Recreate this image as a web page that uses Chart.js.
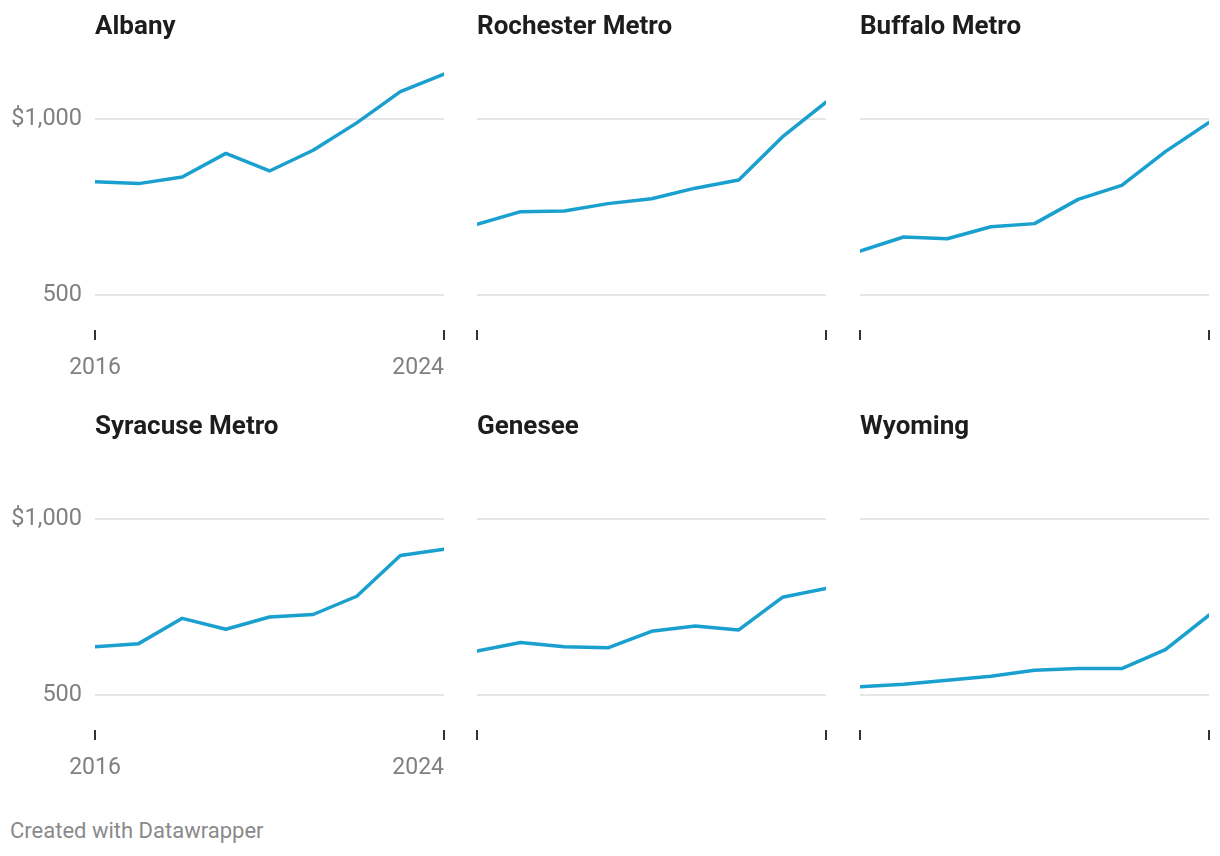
<!DOCTYPE html>
<html>
<head>
<meta charset="utf-8">
<script src="https://cdn.jsdelivr.net/npm/chart.js@4.4.1/dist/chart.umd.min.js"></script>
<style>
    body { margin: 0; background: #fff; }
    #wrap { position: relative; width: 1220px; height: 856px; overflow: hidden; }
    canvas { position: absolute; }
    #footer {
        position: absolute; left: 10px; top: 818px;
        font: 22px Roboto, sans-serif; color: #8a8a8a;
    }
</style>
</head>
<body>
<div id="wrap">
    <canvas id="c0" width="458" height="390" style="left:0px;top:0px"></canvas>
    <canvas id="c1" width="357" height="390" style="left:473px;top:0px"></canvas>
    <canvas id="c2" width="357" height="390" style="left:856px;top:0px"></canvas>
    <canvas id="c3" width="458" height="390" style="left:0px;top:400px"></canvas>
    <canvas id="c4" width="357" height="390" style="left:473px;top:400px"></canvas>
    <canvas id="c5" width="357" height="390" style="left:856px;top:400px"></canvas>
    <div id="footer">Created with Datawrapper</div>
</div>
<script>
// data
var years = [2016, 2017, 2018, 2019, 2020, 2021, 2022, 2023, 2024];
var regionNames = ['Albany', 'Rochester Metro', 'Buffalo Metro', 'Syracuse Metro', 'Genesee', 'Wyoming'];
var albany = [822, 817, 836, 903, 853, 912, 990, 1079, 1129];
var rochester = [701, 737, 739, 760, 774, 804, 827, 950, 1049];
var buffalo = [625, 665, 660, 694, 703, 772, 812, 908, 991];
var syracuse = [637, 646, 718, 687, 722, 729, 781, 897, 915];
var genesee = [625, 649, 637, 634, 681, 696, 685, 778, 803];
var wyoming = [523, 530, 542, 553, 570, 575, 575, 629, 727];
var yTickValues = [500, 1000];
var xTickValues = [2016, 2024];

var allSeries = [albany, rochester, buffalo, syracuse, genesee, wyoming];

// first x label centred on its tick, last one right-aligned (like datawrapper)
var edgeLabels = {
    id: 'edgeLabels',
    beforeDraw: function (chart) {
        var xs = chart.scales.x;
        if (!xs.options.ticks.display) return;
        var items = xs.getLabelItems(chart.chartArea);
        if (items.length) {
            items[0].options.textAlign = 'center';
            items[items.length - 1].options.textAlign = 'right';
        }
    },
};

function formatMoney(v) {
    if (v >= 1000) return '$' + v.toLocaleString('en-US');
    return String(v);
}

function makeChart(idx) {
    var firstCol = idx % 3 === 0;
    var values = allSeries[idx];
    var ctx = document.getElementById('c' + idx).getContext('2d');
    return new Chart(ctx, {
        type: 'line',
        data: {
            datasets: [{
                data: years.map(function (yr, i) { return { x: yr, y: values[i] }; }),
                borderColor: '#1aa0cf',
                borderWidth: 3.5,
                borderCapStyle: 'round',
                borderJoinStyle: 'round',
                pointRadius: 0,
                tension: 0,
                fill: false,
            }],
        },
        options: {
            responsive: false,
            animation: false,
            events: [],
            layout: { padding: { left: 0, right: 4, top: 0, bottom: 0 } },
            plugins: {
                legend: { display: false },
                tooltip: { enabled: false },
                title: {
                    display: true,
                    text: regionNames[idx],
                    align: 'start',
                    fullSize: false,
                    color: '#1d1d1d',
                    font: { family: 'Roboto', size: 26, weight: 'bold', lineHeight: 1.2 },
                    padding: { top: 12, bottom: 23.5 },
                },
            },
            scales: {
                x: {
                    type: 'linear',
                    min: 2016,
                    max: 2024,
                    afterBuildTicks: function (scale) {
                        scale.ticks = xTickValues.map(function (v) { return { value: v }; });
                    },
                    afterFit: function (scale) { scale.height = 60; },
                    border: { display: false },
                    grid: {
                        drawOnChartArea: false,
                        drawTicks: true,
                        tickLength: 10,
                        color: '#333333',
                        lineWidth: 2,
                    },
                    ticks: {
                        display: firstCol,
                        align: 'inner',
                        maxRotation: 0,
                        padding: 14,
                        color: '#808080',
                        font: { family: 'Roboto', size: 23 },
                        callback: function (v) { return String(v); },
                    },
                },
                y: {
                    min: 400,
                    max: 1150,
                    afterBuildTicks: function (scale) {
                        scale.ticks = yTickValues.map(function (v) { return { value: v }; });
                    },
                    afterFit: function (scale) { scale.width = firstCol ? 95 : 4; },
                    border: { display: false },
                    grid: {
                        color: '#e6e6e6',
                        lineWidth: 2,
                        drawTicks: false,
                    },
                    ticks: {
                        display: firstCol,
                        padding: 13,
                        color: '#808080',
                        font: { family: 'Roboto', size: 23.5 },
                        callback: function (v) { return formatMoney(v); },
                    },
                },
            },
        },
        plugins: [edgeLabels],
    });
}

document.addEventListener('DOMContentLoaded', function () {
    for (var i = 0; i < 6; i++) {
        makeChart(i);
    }
});
</script>
</body>
</html>
